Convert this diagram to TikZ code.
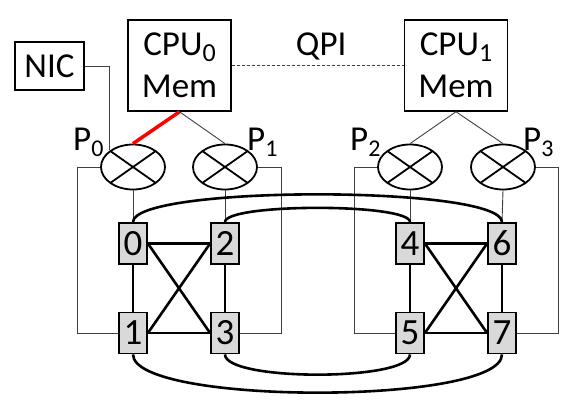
\documentclass[tikz,border=0pt]{standalone}
\usepackage{fontspec}
\setmainfont{Carlito}
\usetikzlibrary{shapes.geometric}

\newcommand{\lowidx}[2][26]{\raisebox{-6pt}{\fontsize{#1}{#1}\selectfont #2}}

\begin{document}
\begin{tikzpicture}[
			x=1pt, y=-1pt,
			font=\fontsize{35}{42}\selectfont,
			unit/.style={
				draw,
				line width=1.5pt,
				align=center,
				inner sep=0pt
			},
			port/.style={
				ellipse,
				draw,
				line width=1.8pt,
				minimum width=64pt,
				minimum height=45pt,
				inner sep=0pt,
				path picture={
					\draw[line width=1.8pt]
					(path picture bounding box.north west) -- (path picture bounding box.south east)
					(path picture bounding box.north east) -- (path picture bounding box.south west);
				}
			},
			switchbox/.style={
				draw,
				line width=1.8pt,
				fill=black!15,
				minimum width=28pt,
				minimum height=41pt,
				inner sep=0pt,
				font=\fontsize{37}{40}\selectfont
			},
			wire/.style={line width=0.9pt,black!75},
			link/.style={line width=2.6pt}
			]
			
			\useasboundingbox (0,0) rectangle (583,407);
			
			% hosts
			\node[unit,minimum width=69pt,minimum height=48pt] (nic) at (49.5,66) {NIC};
			\node[unit,minimum width=103pt,minimum height=91pt] (cpu0) at (179.5,65.5)
			{CPU\lowidx{0}\\Mem};
			\node[unit,minimum width=103pt,minimum height=91pt] (cpu1) at (456,65.5)
			{CPU\lowidx{1}\\Mem};
			
			\draw[wire,dash pattern=on 3pt off 2pt] (cpu0.east)--
			node[pos=0.52,anchor=base,yshift=10.5pt,black] (qpi) {QPI} (cpu1.west);
			
			% ports
			\foreach \n/\x in {0/133,1/225,2/410,3/503}
			\node[port] (p\n) at (\x,167) {};
			
			\node[anchor=base west,inner sep=0pt] (lp0) at (73,150) {P\lowidx[24]{0}};
			\node[anchor=base west,inner sep=0pt] (lp1) at (247,150) {P\lowidx[24]{1}};
			\node[anchor=base west,inner sep=0pt] (lp2) at (350,150) {P\lowidx[24]{2}};
			\node[anchor=base west,inner sep=0pt] (lp3) at (523,150) {P\lowidx[24]{3}};
			
			\draw[wire] (nic.east) -| (p0.north west);
			\draw[red,line width=3.5pt] (cpu0.south)--(p0.north);
			\draw[wire] (cpu0.south)--(p1.north);
			\draw[wire] (cpu1.south)--(p2.north);
			\draw[wire] (cpu1.south)--(p3.north);
			
			% switches
			\foreach \n/\x/\y in {0/133/243.5,1/133/333,2/225/243.5,3/225/333,
				4/410/243.5,5/410/333,6/502/243.5,7/502/333}
			\node[switchbox] (s\n) at (\x,\y) {\n};
			
			\draw[wire] (p0.south)--(s0.north);
			\draw[wire] (p1.south)--(s2.north);
			\draw[wire] (p2.south)--(s4.north);
			\draw[wire] (p3.south)--(s6.north);
			\draw[wire] (p0.west)--++(-23,0) |- (s1.west);
			\draw[wire] (p1.east)--++(24,0) |- (s3.east);
			\draw[wire] (p2.west)--++(-23,0) |- (s5.west);
			\draw[wire] (p3.east)--++(23,0) |- (s7.east);
			
			\foreach \a/\b/\c/\d in {0/1/2/3,4/5/6/7}{
				\draw[link] (s\a.south)--(s\b.north);
				\draw[link] (s\c.south)--(s\d.north);
				\draw[link] (s\a.east)--(s\c.west);
				\draw[link] (s\b.east)--(s\d.west);
				\draw[link] (s\a.east)--(s\d.west);
				\draw[link] (s\c.west)--(s\b.east);
			}
			
			\draw[link] (s0.north) .. controls +(0,-37) and +(0,-37) .. (s6.north);
			\draw[link] (s2.north) .. controls +(0,-19) and +(0,-19) .. (s4.north);
			\draw[link] (s1.south) .. controls +(0,51) and +(0,51) .. (s7.south);
			\draw[link] (s3.south) .. controls +(0,27) and +(0,27) .. (s5.south);
			
		\end{tikzpicture}
\end{document}
